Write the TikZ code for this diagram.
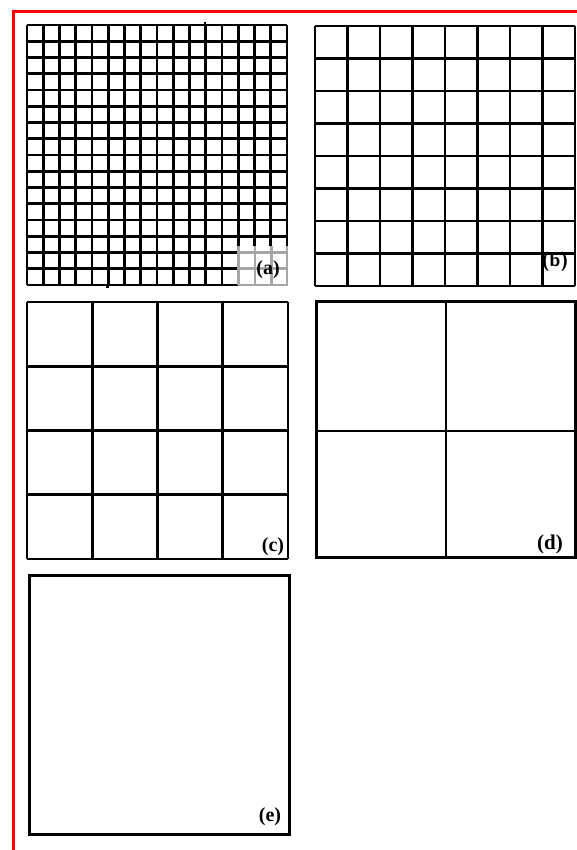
\documentclass[tikz,border=0pt]{standalone}
\usepackage{fontspec}
\setmainfont{Liberation Serif}
\begin{document}
\begin{tikzpicture}[x=1pt,y=-1pt,
  gridline/.style={line width=2.8pt,black},
  frameline/.style={line width=3pt,black},
  fadeline/.style={line width=2.6pt,black!35},
  lab/.style={font=\bfseries\fontsize{20}{20}\selectfont,inner sep=0pt}]
\useasboundingbox[fill=white] (0,0) rectangle (577,850);
% red border
\draw[red,line width=3.5pt] (13.5,850) -- (13.5,11.5) -- (577,11.5);
% (a) 16x16 grid
\foreach \i in {0,...,16}{
  \draw[gridline] ({27+\i*16.25},25) -- ({27+\i*16.25},285);
  \draw[gridline] (27,{25+\i*16.25}) -- (287,{25+\i*16.25});
}
\draw[gridline] (107.5,285) -- (107.5,288);
\draw[gridline] (205,22) -- (205,25);
% faded patch in lower right of (a)
\fill[white] (238,246) rectangle (289,287);
\foreach \x in {238.75,255,271.25,287}{\draw[fadeline] (\x,246) -- (\x,285);}
\foreach \y in {252.5,268.75,285}{\draw[fadeline] (238,\y) -- (288,\y);}
\node[lab] (la) at (268,270) {(a)};
% (b) 8x8 grid
\foreach \i in {0,...,8}{
  \draw[gridline] ({315+\i*32.5},26) -- ({315+\i*32.5},286);
  \draw[gridline] (315,{26+\i*32.5}) -- (575,{26+\i*32.5});
}
\node[inner sep=0pt,font=\sffamily\bfseries\fontsize{19}{19}\selectfont] (lb) at (555,262) {(b)};
% (c) 4x4 grid
\foreach \i in {0,...,4}{
  \draw[gridline] ({27+\i*65.25},302) -- ({27+\i*65.25},559);
  \draw[gridline] (27,{302+\i*64.25}) -- (288,{302+\i*64.25});
}
\node[lab] (lc) at (273,547) {(c)};
% (d) 2x2 grid
\draw[frameline] (316,301) rectangle (575,557);
\draw[gridline] (446,301) -- (446,558);
\draw[gridline] (316,431) -- (577,431);
\node[inner sep=0pt,font=\fontsize{21}{21}\selectfont] (ld) at (550,544) {\textbf{(d)}};
% (e) single square
\draw[line width=3pt] (29.5,575.5) rectangle (289,834);
\node[lab] (le) at (270,817) {(e)};
\end{tikzpicture}
\end{document}
